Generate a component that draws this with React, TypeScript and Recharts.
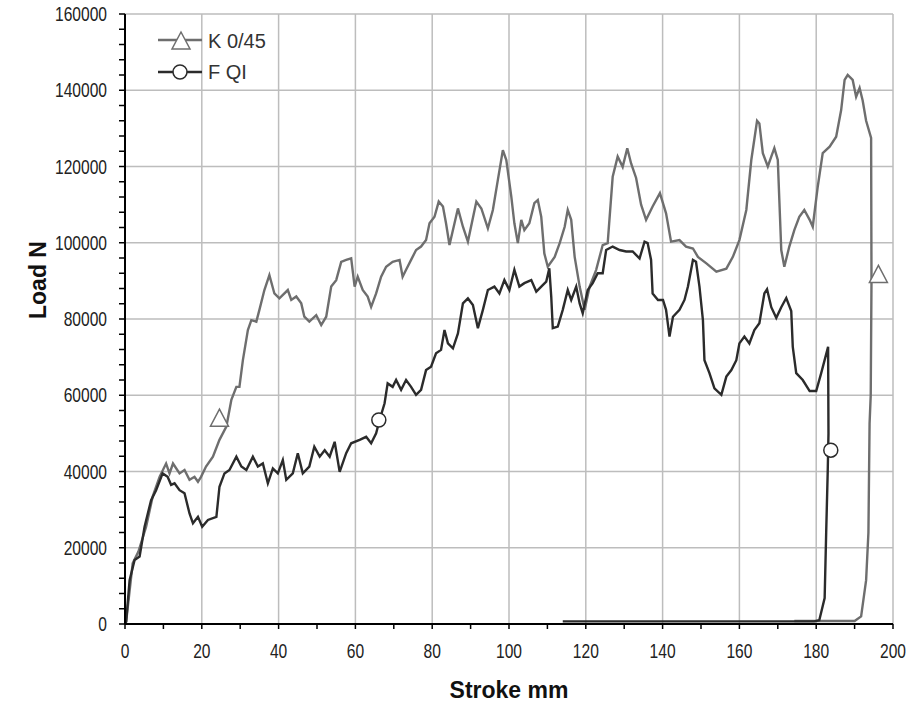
import { CartesianGrid, ComposedChart, Legend, Line, Scatter, XAxis, YAxis } from 'recharts';

// stroke (mm), load (N)
const kSeries: [number, number][] = [
  [0, 0], [0.3, 600], [2.0, 15900], [3.5, 19000], [5.5, 25500], [7.2, 33400], [9.0, 38600], [10.7, 42100],
  [11.6, 39500], [12.5, 42100], [14.2, 39500], [15.5, 40400], [16.8, 37800], [18.1, 38600], [19.0, 37300],
  [19.8, 38600], [21.1, 41300], [22.9, 43900], [24.6, 48300], [26.4, 51800], [27.7, 58800], [29.0, 62200],
  [29.8, 62200], [30.7, 69200], [32.0, 77100], [32.9, 79700], [34.2, 79300], [35.0, 82400], [36.3, 87600],
  [37.6, 91500], [38.9, 86700], [40.2, 85400], [42.4, 87600], [43.3, 85000], [44.6, 85900], [45.9, 84100],
  [46.7, 80600], [48.0, 79300], [49.8, 81000], [51.1, 78400], [52.4, 80600], [53.7, 88500], [55.0, 90200],
  [56.3, 95000], [57.6, 95500], [58.9, 95900], [59.8, 88500], [60.6, 91100], [61.9, 87600], [63.2, 85900],
  [64.1, 83200], [65.4, 86700], [66.7, 91100], [68.0, 93700], [69.7, 95000], [71.5, 95500], [72.3, 91100],
  [73.2, 92900], [74.5, 95500], [75.8, 98100], [77.1, 99000], [78.4, 100700], [79.3, 105100], [80.6, 106800],
  [81.7, 110800], [82.8, 109500], [83.6, 105100], [84.5, 99400], [86.7, 109000], [88.0, 104200], [89.3, 100300],
  [91.5, 110800], [92.8, 109000], [94.5, 103800], [95.8, 108600], [97.1, 116500], [98.4, 124300], [99.3, 121700],
  [100.6, 112100], [101.4, 105100], [102.3, 99900], [103.2, 106000], [104.0, 103300], [105.3, 105100],
  [106.6, 110400], [107.5, 111200], [108.4, 106800], [109.2, 97200], [110.1, 93700], [111.9, 96300],
  [113.2, 99900], [114.5, 104200], [115.3, 108600], [116.2, 106000], [117.1, 96300], [118.4, 88500],
  [119.7, 82400], [121.0, 88500], [122.7, 92900], [124.4, 99400], [125.7, 99900], [127.0, 117300],
  [128.3, 122600], [129.6, 119900], [130.8, 124800], [131.8, 120800], [133.1, 117000], [134.4, 110000],
  [135.7, 106000], [137.4, 109500], [139.3, 113000], [140.9, 107700], [142.2, 100300], [144.4, 100700],
  [146.1, 99000], [147.9, 98500], [149.2, 96300], [151.4, 94600], [154.0, 92400], [156.6, 93200],
  [158.3, 96300], [160.0, 100700], [161.8, 108600], [163.1, 121700], [164.6, 132000], [165.2, 131300],
  [166.1, 123500], [167.4, 120000], [168.3, 122600], [169.1, 124800], [170.0, 121700], [170.4, 111200],
  [170.9, 98100], [171.7, 93700], [173.0, 99000], [174.3, 103300], [175.6, 106800], [176.9, 108600],
  [178.3, 106000], [179.1, 104200], [180.4, 114700], [181.7, 123500], [183.5, 125200], [185.2, 127800],
  [186.5, 134800], [187.4, 142700], [188.2, 144000], [189.5, 142700], [190.4, 138300], [191.3, 140600],
  [192.1, 137300], [193.0, 132000], [194.3, 127500], [194.4, 90000], [194.2, 60000], [193.9, 52600],
  [193.6, 24000], [193.0, 11500], [191.7, 2000], [190.0, 800], [174.3, 800],
];

const fSeries: [number, number][] = [
  [0, 0], [0.3, 600], [1.2, 11500], [2.5, 16800], [3.8, 17700], [5.1, 25500], [6.8, 32500], [8.1, 35100],
  [9.8, 39500], [11.1, 38600], [12.0, 36500], [12.9, 36900], [14.2, 35100], [15.5, 34300], [16.8, 29000],
  [17.7, 26400], [19.0, 28100], [20.1, 25500], [21.6, 27300], [23.8, 28100], [24.6, 36000], [25.9, 39500],
  [27.2, 40400], [29.0, 43900], [30.3, 41300], [31.6, 40400], [33.3, 43900], [34.6, 41300], [35.9, 42100],
  [37.2, 36900], [38.5, 40800], [39.8, 39500], [41.1, 43000], [42.0, 37800], [43.7, 39500], [45.0, 44800],
  [46.3, 39500], [48.0, 41300], [49.3, 46500], [50.7, 43900], [52.0, 45600], [53.3, 43900], [54.6, 47800],
  [55.9, 39900], [57.6, 44800], [58.9, 47400], [61.1, 48300], [62.8, 49100], [64.1, 47400], [65.4, 50000],
  [66.3, 53500], [67.6, 57900], [68.4, 63100], [69.7, 62200], [70.6, 64000], [71.9, 61400], [73.2, 64000],
  [74.5, 62200], [75.8, 60100], [77.1, 61400], [78.4, 66600], [79.7, 67500], [81.0, 71000], [82.3, 71900],
  [83.2, 77100], [84.1, 73600], [85.4, 72300], [86.7, 76200], [88.0, 84100], [89.3, 85400], [90.6, 83700],
  [91.9, 77600], [93.2, 82400], [94.5, 87600], [96.2, 88500], [97.5, 86700], [98.8, 90200], [100.1, 87600],
  [101.4, 92900], [102.7, 88500], [104.0, 89400], [105.8, 90200], [107.1, 87200], [108.4, 88500],
  [109.7, 89800], [110.5, 93300], [111.0, 85900], [111.4, 77600], [112.7, 78000], [114.0, 82400],
  [115.3, 87600], [116.2, 85000], [117.5, 88500], [118.4, 84100], [119.2, 81500], [120.5, 87600],
  [121.8, 89400], [123.1, 92000], [124.4, 92000], [125.3, 98100], [127.0, 99000], [128.8, 98100],
  [130.5, 97700], [132.2, 97700], [134.0, 95900], [135.3, 100300], [136.1, 99900], [137.0, 95500],
  [137.4, 86700], [138.8, 85000], [140.1, 85000], [140.9, 82400], [141.8, 75400], [142.7, 80600],
  [144.4, 82400], [145.7, 85000], [146.6, 88500], [147.9, 95500], [148.7, 95000], [149.6, 88500],
  [150.5, 79700], [150.9, 69200], [152.2, 65800], [153.5, 61800], [155.3, 60100], [156.6, 64900],
  [157.9, 66600], [159.2, 69200], [160.0, 73600], [161.3, 75400], [162.6, 73600], [163.9, 77100],
  [165.2, 78900], [166.5, 86700], [167.2, 87800], [168.3, 83100], [169.6, 80300], [170.9, 83100],
  [172.2, 85500], [173.5, 82100], [173.9, 72700], [174.8, 65800], [176.5, 64000], [178.3, 61100],
  [180.0, 61100], [181.3, 65800], [183.1, 72700], [183.2, 50000], [183.0, 40000], [182.6, 24000],
  [182.2, 6800], [180.8, 1000], [179.5, 700], [114, 700],
];

const kMarkers: [number, number][] = [[24.6, 54000], [196.2, 91700]];
const fMarkers: [number, number][] = [[66.1, 53500], [183.8, 45600]];

const seriesNames = ['K 0/45', 'F QI'];
const xTicks = Array.from({ length: 21 }, (_, i) => i * 10);
const yTicks = Array.from({ length: 41 }, (_, i) => i * 4000);
const xGrid = Array.from({ length: 11 }, (_, i) => i * 20);
const yGrid = Array.from({ length: 9 }, (_, i) => i * 20000);
const xDomain = [0, 200];
const yDomain = [0, 160000];

const kColor = '#6e6e6e';
const fColor = '#2b2b2b';
const font = '"Liberation Sans", Arial, sans-serif';

const toPoints = (rows: [number, number][]) => rows.map(([x, y]) => ({ x, y }));

const XTick = ({ x, y, payload }: any) =>
  payload.value % 20 !== 0 ? null : (
    <text transform={`translate(${x},${y + 27}) scale(0.78,1)`} textAnchor="middle" fontSize={20} fontFamily={font} fill="#222">
      {payload.value}
    </text>
  );

const YTick = ({ x, y, payload }: any) =>
  payload.value % 20000 !== 0 ? null : (
    <text transform={`translate(${x - 10},${y + 7}) scale(0.78,1)`} textAnchor="end" fontSize={20} fontFamily={font} fill="#222">
      {payload.value}
    </text>
  );

const Triangle = ({ cx, cy }: any) => (
  <polygon points={`${cx},${cy - 9} ${cx + 9},${cy + 8} ${cx - 9},${cy + 8}`} fill="#fff" stroke={kColor} strokeWidth={1.5} />
);

const Circle = ({ cx, cy }: any) => <circle cx={cx} cy={cy} r={7} fill="#fff" stroke={fColor} strokeWidth={1.5} />;

const LegendBox = () => (
  <svg width={130} height={62}>
    <line x1={8} x2={52} y1={15} y2={15} stroke={kColor} strokeWidth={2.4} />
    <Triangle cx={31} cy={16} />
    <text x={58} y={23} fontSize={20} fontFamily={font} fill="#333">{seriesNames[0]}</text>
    <line x1={8} x2={52} y1={47} y2={47} stroke={fColor} strokeWidth={2.4} />
    <Circle cx={30} cy={47} />
    <text x={58} y={54} fontSize={20} fontFamily={font} fill="#333">{seriesNames[1]}</text>
  </svg>
);

// grid at every major tick, placed from the plot area the chart computed
const vertical = ({ offset }: any) =>
  xGrid.map((v) => offset.left + ((v - xDomain[0]) / (xDomain[1] - xDomain[0])) * offset.width);
const horizontal = ({ offset }: any) =>
  yGrid.map((v) => offset.top + offset.height - ((v - yDomain[0]) / (yDomain[1] - yDomain[0])) * offset.height);

export default function App() {
  return (
    <div style={{ position: 'absolute', left: 0, top: 0, background: '#fff' }}>
      <ComposedChart width={911} height={706} margin={{ top: 14, right: 18, bottom: 0, left: 0 }}>
        <CartesianGrid
          stroke="#bdbdbd"
          strokeWidth={1.5}
          verticalCoordinatesGenerator={vertical}
          horizontalCoordinatesGenerator={horizontal}
        />
        <XAxis
          type="number"
          dataKey="x"
          domain={xDomain}
          ticks={xTicks}
          interval={0}
          height={82}
          tickSize={5}
          tick={<XTick />}
          axisLine={{ stroke: '#000', strokeWidth: 2 }}
          tickLine={{ stroke: '#000', strokeWidth: 1.5 }}
          label={{ value: 'Stroke mm', position: 'insideBottom', offset: 8, fontSize: 23, fontWeight: 'bold', fontFamily: font, fill: '#111' }}
        />
        <YAxis
          type="number"
          domain={yDomain}
          ticks={yTicks}
          interval={0}
          width={125}
          tickSize={6}
          tick={<YTick />}
          axisLine={{ stroke: '#000', strokeWidth: 2 }}
          tickLine={{ stroke: '#000', strokeWidth: 1.5 }}
          label={{ value: 'Load N', angle: -90, position: 'insideLeft', offset: 38, fontSize: 23, fontWeight: 'bold', fontFamily: font, fill: '#111' }}
        />
        <Line data={toPoints(kSeries)} dataKey="y" name={seriesNames[0]} stroke={kColor} strokeWidth={2.4} dot={false} type="linear" isAnimationActive={false} />
        <Line data={toPoints(fSeries)} dataKey="y" name={seriesNames[1]} stroke={fColor} strokeWidth={2.4} dot={false} type="linear" isAnimationActive={false} />
        <Scatter data={toPoints(kMarkers)} dataKey="y" shape={<Triangle />} isAnimationActive={false} />
        <Scatter data={toPoints(fMarkers)} dataKey="y" shape={<Circle />} isAnimationActive={false} />
        <Legend layout="vertical" align="center" verticalAlign="middle" content={<LegendBox />} wrapperStyle={{ position: 'absolute', left: 150, top: 25, width: 130 }} />
      </ComposedChart>
    </div>
  );
}
